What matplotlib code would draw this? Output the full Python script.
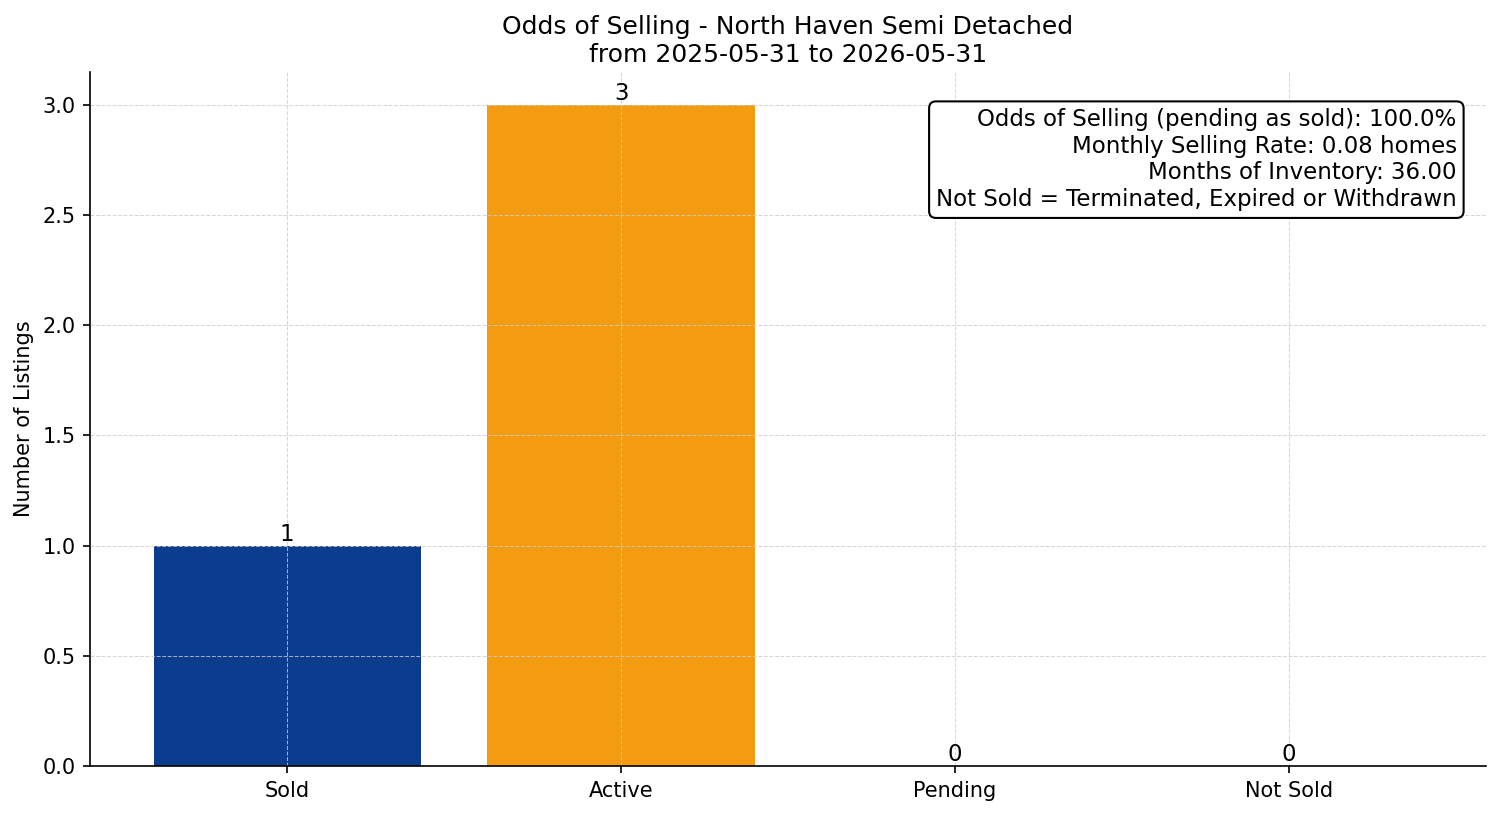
import matplotlib
matplotlib.use("Agg")
import matplotlib.pyplot as plt

categories = ["Sold", "Active", "Pending", "Not Sold"]
counts = [1, 3, 0, 0]
bar_colors = ["#0b3c8e", "#f39c12", "#2ca02c", "#d62728"]
title = "Odds of Selling - North Haven Semi Detached\nfrom 2025-05-31 to 2026-05-31"
info_lines = [
    "Odds of Selling (pending as sold): 100.0%",
    "Monthly Selling Rate: 0.08 homes",
    "Months of Inventory: 36.00",
    "Not Sold = Terminated, Expired or Withdrawn",
]

fig, ax = plt.subplots(figsize=(10.007, 5.44), dpi=150)
bars = ax.bar(categories, counts, color=bar_colors, width=0.8)
for b, v in zip(bars, counts):
    ax.text(b.get_x() + b.get_width() / 2, v, str(v), ha="center", va="bottom", fontsize=11)

ax.set_title(title, fontsize=12, pad=5)
ax.set_ylabel("Number of Listings", fontsize=10)
ax.grid(True, linestyle="--", linewidth=0.5, color="#cccccc", alpha=0.8)
ax.spines["top"].set_visible(False)
ax.spines["right"].set_visible(False)
ax.tick_params(labelsize=10)

ax.text(0.979, 0.9477, "\n".join(info_lines), transform=ax.transAxes, ha="right", va="top",
        fontsize=11, bbox=dict(boxstyle="round,pad=0.3", facecolor="white", edgecolor="black"))

fig.subplots_adjust(left=0.06, right=0.99, top=0.9118, bottom=0.0613)
fig.savefig("out.png", dpi=150)
